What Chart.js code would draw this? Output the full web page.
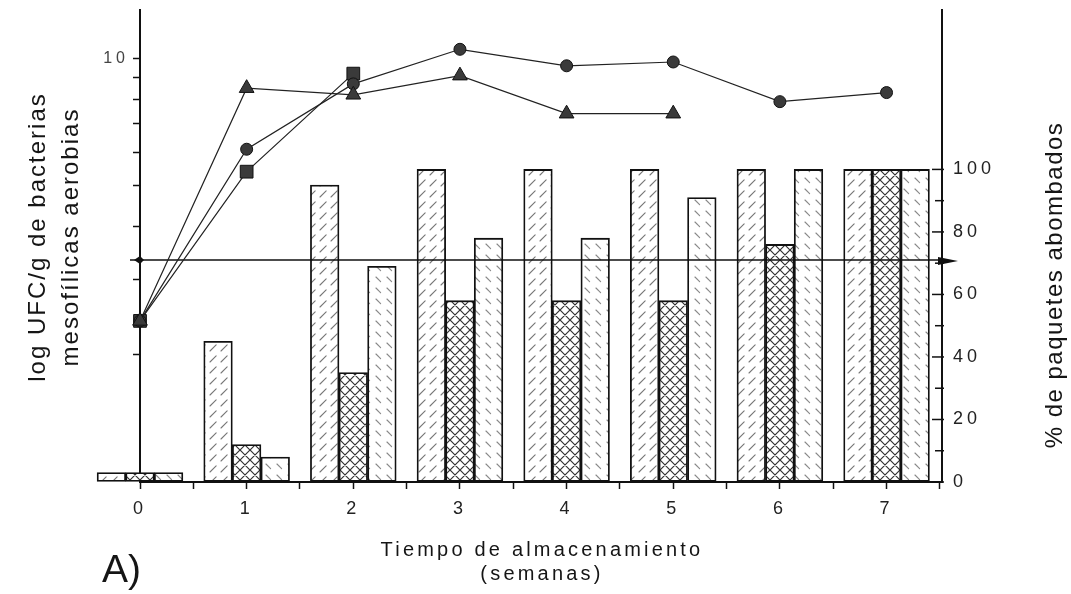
<!DOCTYPE html>
<html>
<head>
<meta charset="utf-8">
<script src="https://cdn.jsdelivr.net/npm/chart.js@4.4.1/dist/chart.umd.min.js"></script>
<style>
  html, body { margin: 0; padding: 0; background: #fff; }
  canvas { display: block; }
</style>
</head>
<body>
<canvas id="chart" width="1071" height="594"></canvas>
<script>
// Storage time (weeks)
const weeks = [0, 1, 2, 3, 4, 5, 6, 7];
const xTickValues = [0, 0.5, 1, 1.5, 2, 2.5, 3, 3.5, 4, 4.5, 5, 5.5, 6, 6.5, 7, 7.5];
const leftTickValues = [2, 3, 4, 5, 6, 7, 8, 9, 10];
const rightTickValues = [0, 10, 20, 30, 40, 50, 60, 70, 80, 90, 100];

// % de paquetes abombados (three packaging treatments)
const swollenA = [3, 45, 95, 100, 100, 100, 100, 100];
const swollenB = [3, 12, 35, 58, 58, 58, 76, 100];
const swollenC = [3, 8, 69, 78, 78, 91, 100, 100];

// log UFC/g de bacterias mesofílicas aerobias
const countsTriangle = [2.4, 8.5, 8.2, 9.1, 7.4, 7.4, null, null];
const countsCircle = [2.4, 6.1, 8.7, 10.5, 9.6, 9.8, 7.9, 8.3];
const countsSquare = [2.4, 5.4, 9.2, null, null, null, null, null];

// reference level on the % axis
const limitPercent = 71;

const FONT = "'Liberation Sans', Arial, Helvetica, sans-serif";

function makeHatch(kind) {
  const s = kind === 'cross' ? 10 : 11;
  const tile = document.createElement('canvas');
  tile.width = s; tile.height = s;
  const g = tile.getContext('2d');
  g.fillStyle = '#fff';
  g.fillRect(0, 0, s, s);
  g.lineCap = 'round';
  if (kind === 'cross') {
    g.strokeStyle = '#333';
    g.lineWidth = 1.2;
    g.beginPath();
    g.moveTo(-1, s + 1); g.lineTo(s + 1, -1);
    g.moveTo(-1, -1); g.lineTo(s + 1, s + 1);
    g.stroke();
  } else if (kind === 'slash') {
    g.strokeStyle = '#777';
    g.lineWidth = 1.1;
    g.beginPath();
    g.moveTo(1, s - 1); g.lineTo(s * 0.65, s * 0.35);
    g.stroke();
  } else {
    g.strokeStyle = '#888';
    g.lineWidth = 1.1;
    g.beginPath();
    g.moveTo(2, 2); g.lineTo(s * 0.6, s * 0.6);
    g.stroke();
  }
  return document.createElement('canvas').getContext('2d').createPattern(tile, 'repeat');
}

const toPoints = (vals) => weeks
  .map((w, i) => ({ x: w, y: vals[i] }))
  .filter(p => p.y !== null);

function barSet(label, vals, pattern) {
  return {
    type: 'bar', label, yAxisID: 'yR', order: 2, clip: false,
    data: toPoints(vals),
    backgroundColor: pattern,
    borderColor: '#111', borderWidth: 1.8, borderSkipped: false,
    barThickness: 28.6
  };
}

function lineSet(label, vals, style, radius) {
  return {
    type: 'line', label, yAxisID: 'yL', order: 1, clip: false,
    data: toPoints(vals),
    borderColor: '#222', borderWidth: 1.2, tension: 0, fill: false,
    pointStyle: style, pointRadius: radius, pointHoverRadius: radius,
    pointBackgroundColor: '#3a3a3a', pointBorderColor: '#111', pointBorderWidth: 1
  };
}

// fixed box sizes so the plot area sits at a known place
function fixBox(size, horizontal) {
  return (s) => {
    if (horizontal) s.height = size; else s.width = size;
    s.paddingLeft = 0; s.paddingRight = 0; s.paddingTop = 0; s.paddingBottom = 0;
  };
}

// horizontal reference line drawn over the bars, under the count curves
const limitLine = {
  id: 'limitLine',
  afterDatasetDraw(chart, args) {
    if (args.index !== 0) return;
    const { ctx, chartArea } = chart;
    const y = chart.scales.yR.getPixelForValue(limitPercent);
    ctx.save();
    ctx.strokeStyle = '#111';
    ctx.lineWidth = 1.6;
    ctx.beginPath();
    ctx.moveTo(chartArea.left - 10, y);
    ctx.lineTo(chartArea.right + 4, y);
    ctx.stroke();
    ctx.fillStyle = '#111';
    ctx.beginPath();
    ctx.moveTo(chartArea.right - 4, y - 3);
    ctx.lineTo(chartArea.right + 16, y + 1);
    ctx.lineTo(chartArea.right - 4, y + 5);
    ctx.closePath();
    ctx.fill();
    ctx.beginPath();
    ctx.moveTo(chartArea.left - 6, y);
    ctx.lineTo(chartArea.left, y - 4);
    ctx.lineTo(chartArea.left + 4, y);
    ctx.lineTo(chartArea.left, y + 4);
    ctx.closePath();
    ctx.fill();
    ctx.restore();
  }
};

// spaced lettering for the tick labels, inward ticks on the % axis, titles
const decorations = {
  id: 'decorations',
  beforeDraw(chart) {
    chart.ctx.letterSpacing = '4px';
  },
  afterDraw(chart) {
    const { ctx, chartArea } = chart;
    const yR = chart.scales.yR;
    ctx.save();
    ctx.letterSpacing = '0px';
    ctx.strokeStyle = '#111';
    ctx.lineWidth = 1.5;
    rightTickValues.forEach(v => {
      const y = yR.getPixelForValue(v);
      const len = v % 20 === 0 ? 10 : 7;
      ctx.beginPath();
      ctx.moveTo(chartArea.right - len, y);
      ctx.lineTo(chartArea.right + 2, y);
      ctx.stroke();
    });

    ctx.fillStyle = '#151515';
    ctx.textAlign = 'center';
    ctx.textBaseline = 'alphabetic';

    ctx.font = `20px ${FONT}`;
    ctx.letterSpacing = '3.2px';
    ctx.fillText('Tiempo de almacenamiento', 542, 556);
    ctx.fillText('(semanas)', 542, 580);

    ctx.letterSpacing = '0px';
    ctx.textAlign = 'left';
    ctx.font = `39px ${FONT}`;
    ctx.fillText('A)', 102, 582);

    ctx.textAlign = 'center';
    ctx.textBaseline = 'middle';
    ctx.font = `24px ${FONT}`;
    ctx.letterSpacing = '2px';
    ctx.save();
    ctx.translate(38, 237);
    ctx.rotate(-Math.PI / 2);
    ctx.fillText('log UFC/g de bacterias', 0, 0);
    ctx.restore();
    ctx.save();
    ctx.translate(71, 237);
    ctx.rotate(-Math.PI / 2);
    ctx.fillText('mesofílicas aerobias', 0, 0);
    ctx.restore();
    ctx.save();
    ctx.translate(1055, 285);
    ctx.rotate(-Math.PI / 2);
    ctx.letterSpacing = '1.5px';
    ctx.fillText('% de paquetes abombados', 0, 0);
    ctx.restore();

    ctx.restore();
  }
};

const tickFont = { family: FONT, size: 18 };

new Chart(document.getElementById('chart'), {
  type: 'bar',
  data: {
    datasets: [
      barSet('Tratamiento 1', swollenA, makeHatch('slash')),
      barSet('Tratamiento 2', swollenB, makeHatch('cross')),
      barSet('Tratamiento 3', swollenC, makeHatch('back')),
      lineSet('Recuento 1', countsTriangle, 'triangle', 8.5),
      lineSet('Recuento 2', countsCircle, 'circle', 6),
      lineSet('Recuento 3', countsSquare, 'rect', 9)
    ]
  },
  options: {
    responsive: false,
    animation: false,
    devicePixelRatio: 1,
    layout: { padding: { top: 8, left: 0, right: 0, bottom: 0 } },
    plugins: { legend: { display: false }, tooltip: { enabled: false } },
    scales: {
      x: {
        type: 'linear', position: 'bottom', min: 0, max: 7.52, z: 1, offset: false,
        afterBuildTicks: s => { s.ticks = xTickValues.map(v => ({ value: v })); },
        afterFit: fixBox(112, true),
        ticks: {
          autoSkip: false, maxRotation: 0, padding: 9, color: '#222', font: tickFont,
          callback: v => Number.isInteger(v) ? String(v) : ''
        },
        grid: { offset: false, drawOnChartArea: false, tickLength: 7, tickColor: '#111', tickWidth: 1.5 },
        border: { display: true, color: '#111', width: 2 }
      },
      yL: {
        type: 'logarithmic', position: 'left', min: 1, max: 13,
        afterBuildTicks: s => { s.ticks = leftTickValues.map(v => ({ value: v })); },
        afterFit: fixBox(140, false),
        ticks: {
          autoSkip: false, padding: 4, color: '#444', font: { family: FONT, size: 16 },
          callback: v => v === 10 ? '10' : ''
        },
        grid: { drawOnChartArea: false, tickLength: 7, tickColor: '#111', tickWidth: 1.5 },
        border: { display: true, color: '#111', width: 2 }
      },
      yR: {
        type: 'linear', position: 'right', min: 0, max: 151, z: 1,
        afterBuildTicks: s => { s.ticks = rightTickValues.map(v => ({ value: v })); },
        afterFit: fixBox(129, false),
        ticks: {
          autoSkip: false, padding: 11, color: '#222', font: tickFont,
          callback: v => v % 20 === 0 ? String(v) : ''
        },
        grid: { drawOnChartArea: false, drawTicks: false },
        border: { display: true, color: '#111', width: 2 }
      }
    }
  },
  plugins: [limitLine, decorations]
});
</script>
</body>
</html>
